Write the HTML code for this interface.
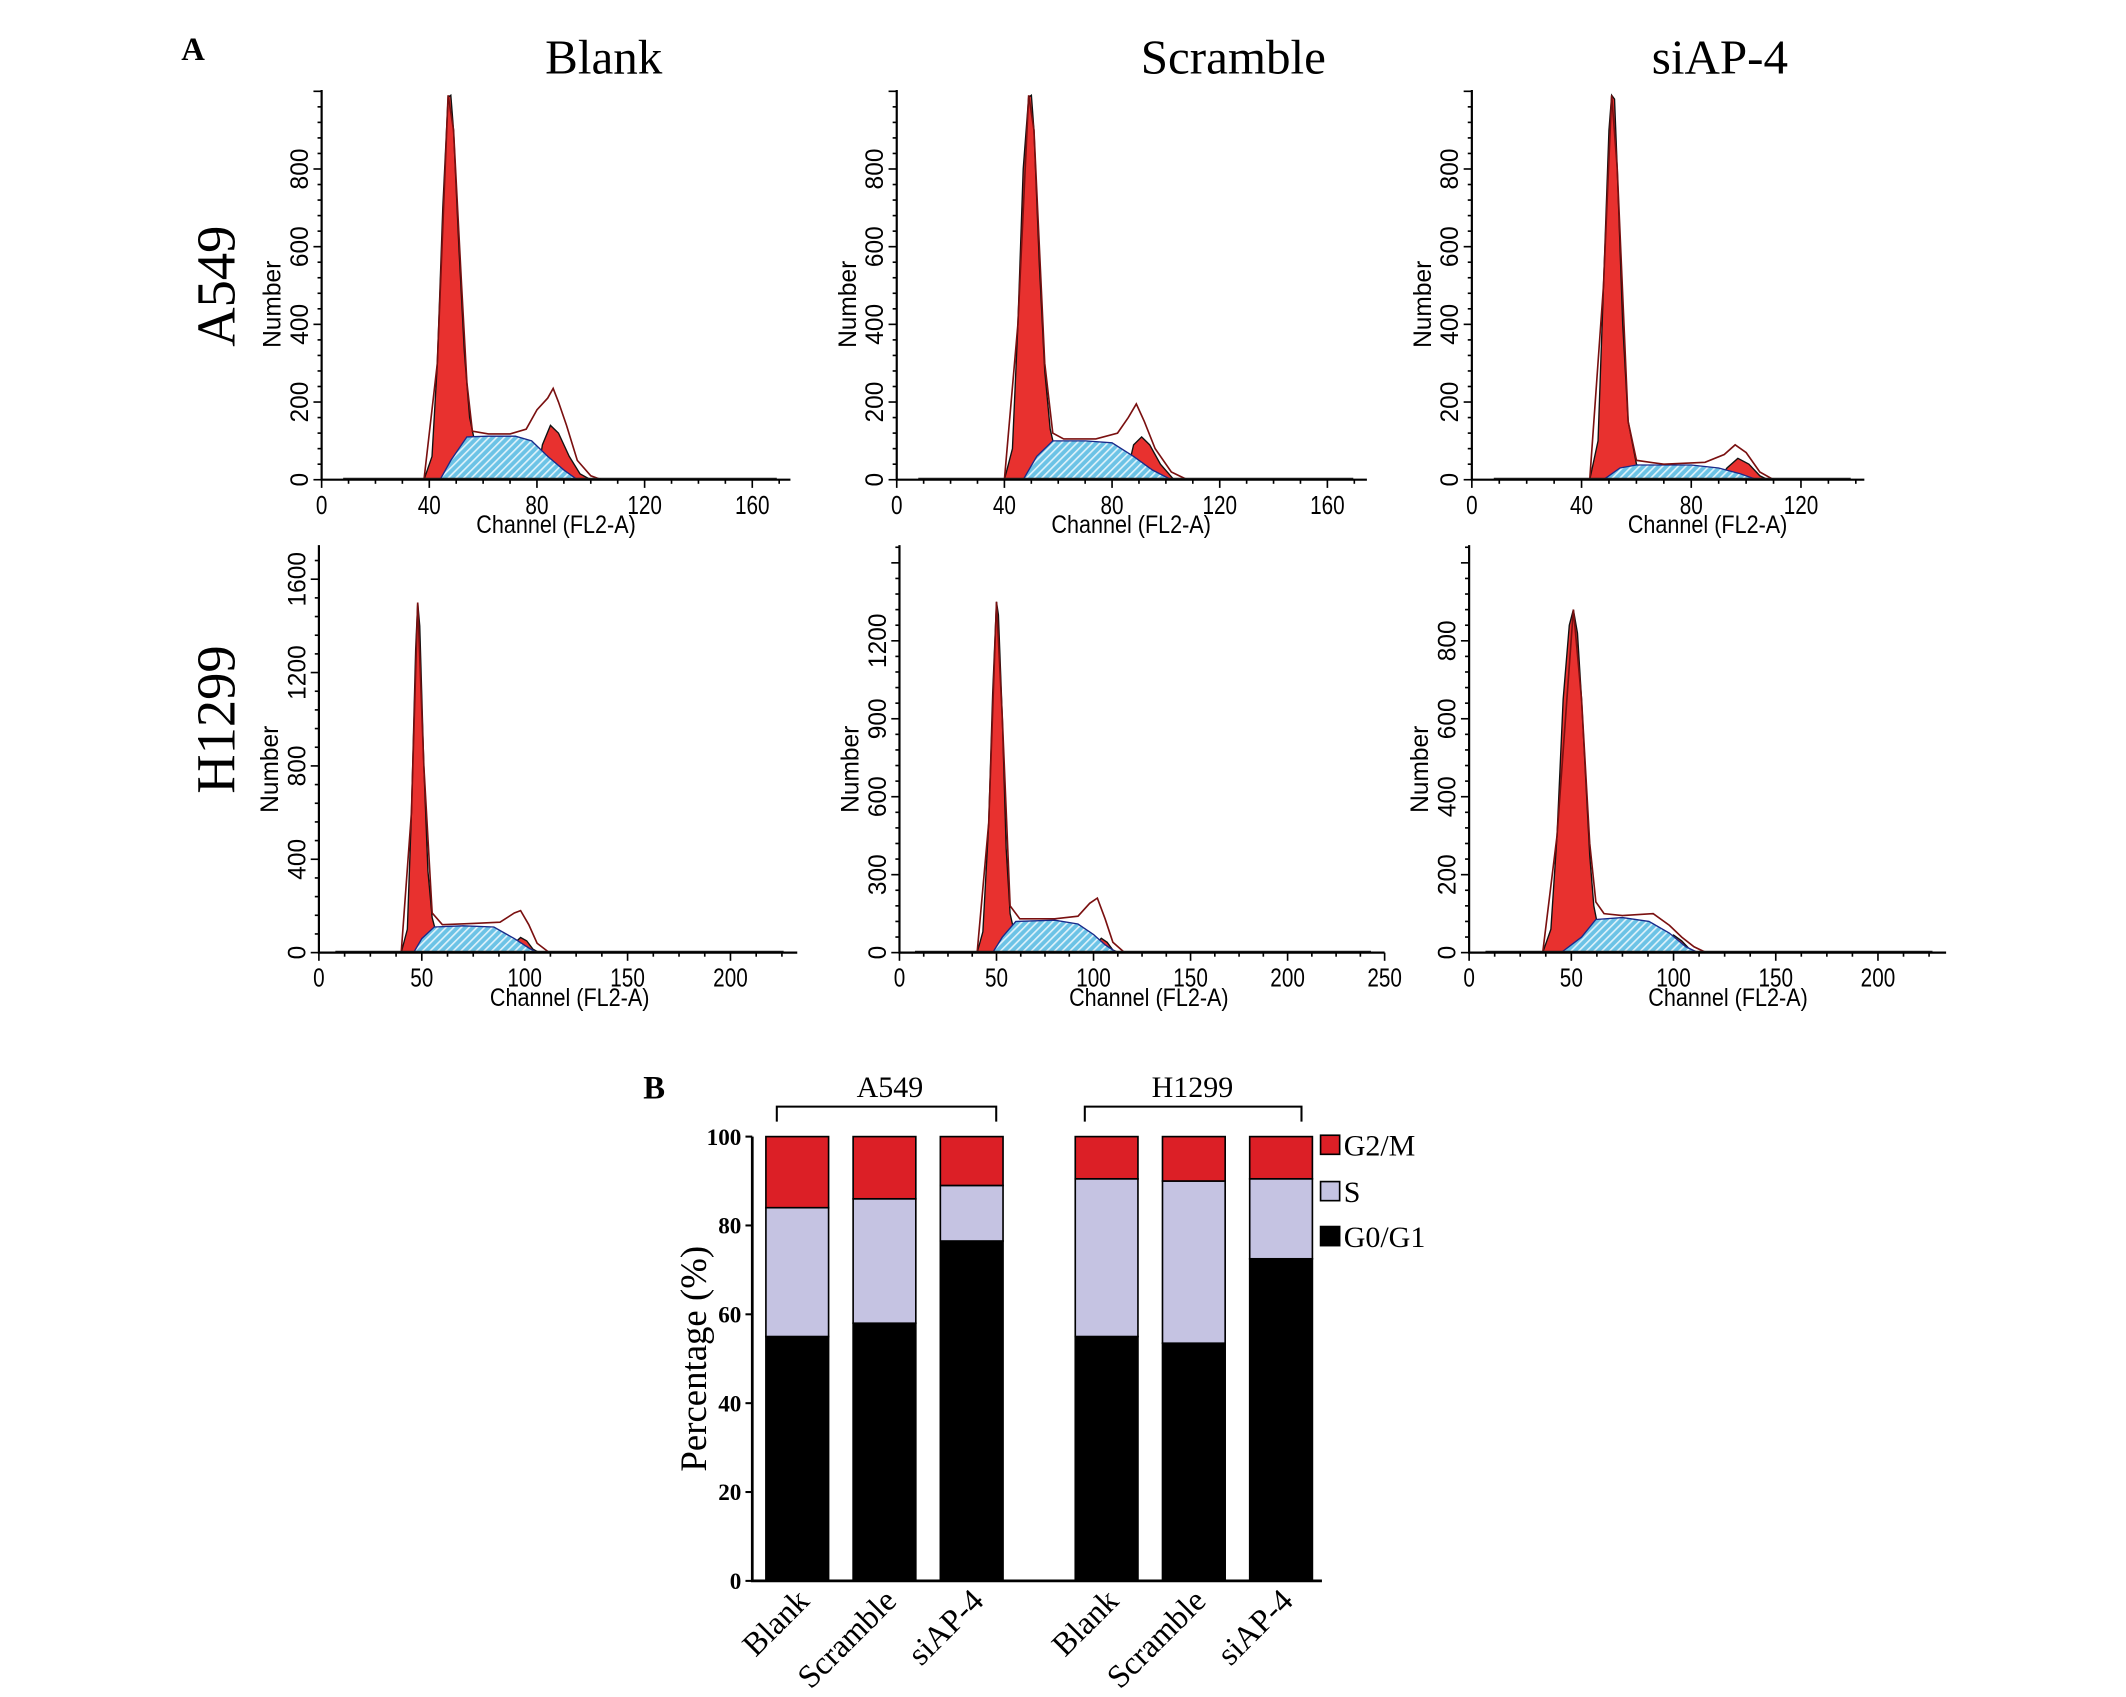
<!DOCTYPE html>
<html><head><meta charset="utf-8"><style>
html,body{margin:0;padding:0;background:#fff;}
svg{display:block;}
</style></head><body>
<svg id="fig" xmlns="http://www.w3.org/2000/svg" width="2126" height="1697" viewBox="0 0 1560 1245.2" preserveAspectRatio="none">
<defs>
<pattern id="hatch" patternUnits="userSpaceOnUse" width="4" height="4" patternTransform="rotate(45)">
<rect width="4" height="4" fill="#6cc3e6"/><rect width="1.2" height="4" fill="#dff2fa"/>
</pattern>
</defs>
<g id="panelA">
<text x="133" y="44" font-family="Liberation Serif" font-weight="bold" font-size="24">A</text>
<text x="443" y="54" text-anchor="middle" font-family="Liberation Serif" font-size="36">Blank</text>
<text x="905" y="54" text-anchor="middle" font-family="Liberation Serif" font-size="36">Scramble</text>
<text x="1262" y="54" text-anchor="middle" font-family="Liberation Serif" font-size="36">siAP-4</text>
<text transform="translate(172,210) rotate(-90)" text-anchor="middle" font-family="Liberation Serif" font-size="40">A549</text>
<text transform="translate(172,528) rotate(-90)" text-anchor="middle" font-family="Liberation Serif" font-size="40">H1299</text>
</g>
<g id="hists"></g>
<g id="panelB"></g>
</svg>
<script>
// ---------- Histogram data (channel, count) ----------
const xTicksR1 = [0,40,80,120,160];
const xTicksR1c = [0,40,80,120];
const xTicksR2 = [0,50,100,150,200];
const xTicksR2b = [0,50,100,150,200,250];
const yTicksA = [0,200,400,600,800];
const yTicksB1 = [0,400,800,1200,1600];
const yTicksB2 = [0,300,600,900,1200];
const yTicksB3 = [0,200,400,600,800];

const g1_a_blank = [[38,0],[41,60],[43,300],[45,700],[47,985],[48,990],[49,900],[51,600],[53,330],[55,160],[58,60],[62,10],[66,0]];
const s_a_blank = [[44,0],[48,50],[54,110],[62,112],[72,112],[78,100],[84,60],[90,25],[95,0]];
const g2_a_blank = [[80,0],[82,90],[85,140],[88,120],[92,60],[96,15],[100,0]];
const tot_a_blank = [[38,0],[43,300],[47,990],[49,900],[52,500],[54,250],[56,125],[62,118],[70,118],[76,130],[80,180],[84,210],[86,235],[88,200],[91,140],[95,50],[100,10],[104,0]];

const g1_a_scr = [[40,0],[43,80],[45,400],[47,800],[49,985],[50,990],[51,900],[53,550],[55,280],[57,130],[60,40],[64,0]];
const s_a_scr = [[47,0],[52,60],[58,100],[70,100],[80,95],[88,60],[95,25],[102,0]];
const g2_a_scr = [[85,0],[88,90],[91,110],[94,90],[98,40],[103,0]];
const tot_a_scr = [[40,0],[45,400],[49,990],[51,900],[55,300],[58,120],[62,105],[74,105],[82,120],[86,160],[89,195],[92,150],[96,80],[102,20],[108,0]];

const g1_a_si = [[43,0],[46,100],[48,500],[50,900],[51,990],[52,980],[53,800],[55,400],[57,150],[60,40],[64,0]];
const s_a_si = [[48,0],[54,30],[60,38],[80,38],[90,30],[98,15],[104,0]];
const g2_a_si = [[90,0],[93,30],[97,55],[101,40],[105,10],[108,0]];
const tot_a_si = [[43,0],[48,500],[51,990],[53,800],[57,150],[60,50],[70,40],[85,45],[92,65],[96,90],[100,70],[105,20],[110,0]];

const g1_b_blank = [[40,0],[43,100],[45,600],[47,1300],[48,1500],[49,1400],[51,800],[53,350],[55,150],[58,50],[62,0]];
const s_b_blank = [[46,0],[50,60],[56,110],[70,115],[85,110],[95,60],[102,20],[106,0]];
const g2_b_blank = [[92,0],[95,40],[98,65],[101,50],[104,15],[107,0]];
const tot_b_blank = [[40,0],[45,600],[48,1500],[51,800],[55,170],[60,120],[75,125],[88,130],[95,170],[98,180],[102,120],[106,40],[112,0]];

const g1_b_scr = [[40,0],[43,80],[46,500],[48,1000],[50,1350],[51,1300],[53,900],[55,400],[57,150],[60,50],[64,0]];
const s_b_scr = [[48,0],[53,60],[60,120],[80,125],[92,110],[100,70],[106,30],[112,0]];
const g2_b_scr = [[98,0],[101,30],[104,55],[107,40],[110,10],[113,0]];
const tot_b_scr = [[40,0],[46,500],[50,1350],[53,900],[57,180],[62,130],[80,130],[92,140],[98,190],[102,210],[106,130],[110,40],[116,0]];

const g1_b_si = [[36,0],[40,60],[43,300],[46,650],[49,840],[51,880],[53,820],[55,650],[57,450],[59,250],[61,120],[64,40],[68,0]];
const s_b_si = [[45,0],[55,40],[62,85],[75,90],[88,80],[98,50],[106,15],[112,0]];
const g2_b_si = [[92,0],[96,35],[100,45],[104,30],[108,8],[111,0]];
const tot_b_si = [[36,0],[43,300],[51,880],[55,650],[59,280],[62,130],[66,100],[75,95],[90,100],[98,70],[104,40],[110,15],[116,0]];

// Layout (pixel geometry, not data)
const plots = [
 {id:'a549-blank', ox:236, base:352, top:66, end:580, sx:79/40, sy:57/200, xt:xTicksR1, yt:yTicksA, g1:g1_a_blank, s:s_a_blank, g2:g2_a_blank, tot:tot_a_blank, lab:200, xlab:408, xly:391},
 {id:'a549-scramble', ox:658, base:352, top:66, end:1003, sx:79/40, sy:57/200, xt:xTicksR1, yt:yTicksA, g1:g1_a_scr, s:s_a_scr, g2:g2_a_scr, tot:tot_a_scr, lab:622, xlab:830, xly:391},
 {id:'a549-siap4', ox:1080, base:352, top:66, end:1368, sx:80.5/40, sy:57/200, xt:xTicksR1c, yt:yTicksA, g1:g1_a_si, s:s_a_si, g2:g2_a_si, tot:tot_a_si, lab:1044, xlab:1253, xly:391},
 {id:'h1299-blank', ox:234, base:699, top:400, end:585, sx:75.5/50, sy:68.5/400, xt:xTicksR2, yt:yTicksB1, g1:g1_b_blank, s:s_b_blank, g2:g2_b_blank, tot:tot_b_blank, lab:198, xlab:418, xly:738},
 {id:'h1299-scramble', ox:660, base:699, top:400, end:1016, sx:71.2/50, sy:57.2/300, xt:xTicksR2b, yt:yTicksB2, g1:g1_b_scr, s:s_b_scr, g2:g2_b_scr, tot:tot_b_scr, lab:624, xlab:843, xly:738},
 {id:'h1299-siap4', ox:1078, base:699, top:400, end:1428, sx:75/50, sy:57.2/200, xt:xTicksR2, yt:yTicksB3, g1:g1_b_si, s:s_b_si, g2:g2_b_si, tot:tot_b_si, lab:1042, xlab:1268, xly:738}
];
const NS='http://www.w3.org/2000/svg';
function mk(tag, attrs, parent){const e=document.createElementNS(NS,tag);for(const k in attrs)e.setAttribute(k,attrs[k]);parent.appendChild(e);return e;}
const hists=document.getElementById('hists');
plots.forEach(p=>{
  const X=v=>p.ox+v*p.sx, Y=v=>p.base-v*p.sy;
  const g=mk('g',{},hists);
  
  
  const poly=pts=>pts.map(q=>X(q[0]).toFixed(1)+','+Y(q[1]).toFixed(1)).join(' ');
  const g1=mk('polygon',{points:poly(p.g1),fill:'#e8312f',stroke:'#111','stroke-width':1},g);
  
  
  const g2=mk('polygon',{points:poly(p.g2),fill:'#e8312f',stroke:'#111','stroke-width':1},g);
  
  
  const s=mk('polygon',{points:poly(p.s),fill:'url(#hatch)',stroke:'#1a2a8a','stroke-width':1},g);
  
  
  const t=mk('polyline',{points:poly(p.tot),fill:'none',stroke:'#7a1010','stroke-width':1.2},g);
  
  
  const bl=mk('line',{x1:X(8),y1:p.base-1,x2:p.end-10,y2:p.base-1,stroke:'#222','stroke-width':0.8},g);
  
  
  const ax=mk('path',{d:`M${p.ox},${p.top} V${p.base} H${p.end}`,fill:'none',stroke:'#000','stroke-width':1.6},g);
  
  
  const xs=p.xt[1]-p.xt[0];
  for(let v=0; X(v)<=p.end; v+=xs/4){
    const major=Math.abs(v/xs-Math.round(v/xs))<1e-6;
    mk('line',{x1:X(v),y1:p.base,x2:X(v),y2:p.base+(major?6:3),stroke:'#000','stroke-width':1.2},g);
  }
  const ys=p.yt[1]-p.yt[0];
  for(let v=0; Y(v)>=p.top; v+=ys/5){
    const major=Math.abs(v/ys-Math.round(v/ys))<1e-6;
    mk('line',{x1:p.ox,y1:Y(v),x2:p.ox-(major?6:3),y2:Y(v),stroke:'#000','stroke-width':1.2},g);
  }
  p.xt.forEach(v=>{
    const tx=mk('text',{x:X(v),y:p.base+25,'text-anchor':'middle','font-family':'Liberation Sans','font-size':19,transform:`translate(${X(v)},${p.base+25}) scale(0.8,1) translate(${-X(v)},${-(p.base+25)})`},g);
    tx.textContent=v;
    
    
  });
  p.yt.forEach(v=>{
    const tx=mk('text',{transform:`translate(${p.ox-10},${Y(v)}) rotate(-90)`,'text-anchor':'middle','font-family':'Liberation Sans','font-size':18},g);
    tx.textContent=v;
    
    
  });
  const yl=mk('text',{transform:`translate(${p.lab+6},${p.top+(p.base-p.top)*0.55}) rotate(-90)`,'text-anchor':'middle','font-family':'Liberation Sans','font-size':18},g);
  yl.textContent='Number';
  
  
  const xl=mk('text',{x:p.xlab,y:p.xly,'text-anchor':'middle','font-family':'Liberation Sans','font-size':18,transform:`translate(${p.xlab},0) scale(0.88,1) translate(${-p.xlab},0)`},g);
  xl.textContent='Channel (FL2-A)';
  
  
});

// ---------- Panel B stacked bar data ----------
const barCategories = ['Blank','Scramble','siAP-4','Blank','Scramble','siAP-4'];
const g0g1Values = [55, 58, 76.5, 55, 53.5, 72.5];
const sValues = [29, 28, 12.5, 35.5, 36.5, 18];
const g2mValues = [16, 14, 11, 9.5, 10, 9.5];
const yTicksBar = [0,20,40,60,80,100];
const groupLabels = ['A549','H1299'];

const B=document.getElementById('panelB');
const bx0=552, by0=1160, bTop=834, bEnd=970;
const barCenters=[585,649,713,812,876,940], bw=46;
const YB=v=>by0-(v/100)*(by0-bTop);
function tB(txt,attrs,name){const e=mk('text',attrs,B);e.textContent=txt;return e;}
tB('B',{x:472,y:806,'font-family':'Liberation Serif','font-weight':'bold','font-size':24},'panel-b-label');
barCategories.forEach((c,i)=>{
  const segs=[[0,g0g1Values[i],'#000','g0g1'],[g0g1Values[i],g0g1Values[i]+sValues[i],'#c5c3e2','s'],[g0g1Values[i]+sValues[i],g0g1Values[i]+sValues[i]+g2mValues[i],'#dc1f26','g2m']];
  segs.forEach(sg=>{
    const r=mk('rect',{x:barCenters[i]-bw/2,y:YB(sg[1]),width:bw,height:YB(sg[0])-YB(sg[1]),fill:sg[2],stroke:'#000','stroke-width':1.2},B);
    
    
  });
  const lx=barCenters[i]+10, ly=by0+16;
  tB(c,{transform:`translate(${lx},${ly}) rotate(-45)`,'text-anchor':'end','font-family':'Liberation Serif','font-size':24},'x-category-label');
});
const axB=mk('path',{d:`M${bx0},${bTop} V${by0} H${bEnd}`,fill:'none',stroke:'#000','stroke-width':2},B);


yTicksBar.forEach(v=>{
  mk('line',{x1:bx0-5,y1:YB(v),x2:bx0,y2:YB(v),stroke:'#000','stroke-width':1.5},B);
  tB(String(v),{x:bx0-8,y:YB(v)+6,'text-anchor':'end','font-family':'Liberation Serif','font-weight':'bold','font-size':17},'y-tick-label');
});
tB('Percentage (%)',{transform:`translate(518,${(bTop+by0)/2}) rotate(-90)`,'text-anchor':'middle','font-family':'Liberation Serif','font-size':27},'y-axis-title');
[[570,731,653],[796,955,875]].forEach((b,j)=>{
  const pth=mk('path',{d:`M${b[0]},823 V812 H${b[1]} V823`,fill:'none',stroke:'#000','stroke-width':1.5},B);
  
  
  tB(groupLabels[j],{x:b[2],y:805,'text-anchor':'middle','font-family':'Liberation Serif','font-size':22},'group-label');
});
[['G2/M','#dc1f26',840],['S','#c5c3e2',874],['G0/G1','#000',907]].forEach(l=>{
  const r=mk('rect',{x:969,y:l[2]-7,width:14,height:14,fill:l[1],stroke:'#000','stroke-width':1.2},B);
  
  
  tB(l[0],{x:986,y:l[2]+8,'font-family':'Liberation Serif','font-size':22},'legend-entry');
});
</script>
</body></html>
